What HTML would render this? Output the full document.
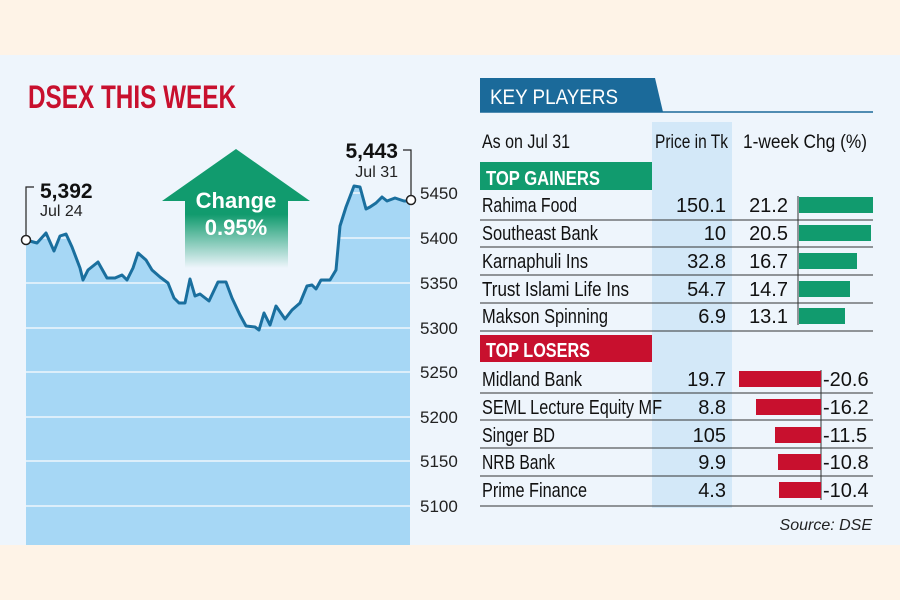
<!DOCTYPE html>
<html><head><meta charset="utf-8"><style>
html,body{margin:0;padding:0;background:#fef3e7;}
svg{display:block;}
text{font-family:"Liberation Sans Narrow","Liberation Sans",sans-serif;}
</style></head><body>
<svg width="900" height="600" viewBox="0 0 900 600" xmlns="http://www.w3.org/2000/svg">
<defs>
<linearGradient id="fade" x1="0" y1="0" x2="0" y2="1">
<stop offset="0" stop-color="#119b6e"/><stop offset="0.55" stop-color="#119b6e"/><stop offset="1" stop-color="#119b6e" stop-opacity="0"/>
</linearGradient>
</defs>
<rect x="0" y="0" width="900" height="600" fill="#fef3e7"/>
<rect x="0" y="55" width="900" height="490" fill="#eef5fc"/>
<text x="28" y="108" font-size="32" font-weight="bold" fill="#c8102e" textLength="208" lengthAdjust="spacingAndGlyphs">DSEX THIS WEEK</text>
<!-- chart -->
<path d="M26,240 L37,243 L46,233 L54,251 L60,236 L66,234 L72,247 L80,268 L83,280 L88,270 L98,262 L107,278 L115,278 L122,275 L127,280 L133,268 L138,253 L146,260 L152,270 L160,277 L168,283 L174,298 L179,303 L185,303 L190,279 L195,296 L200,294 L209,301 L218,282 L226,282 L232,298 L240,315 L246,326 L255,327 L259,330 L264,313 L270,325 L276,306 L285,319 L292,310 L300,303 L307,286 L312,285 L316,289 L321,280 L330,280 L336,270 L340,226 L346,207 L354,186 L360,187 L366,209 L370,207 L376,203 L382,197 L387,201 L395,198 L404,201 L410,201 L410,545 L26,545 Z" fill="#a6d7f5"/>
<g stroke="#eef5fc" stroke-width="1.5">
<line x1="26" y1="193" x2="410" y2="193"/><line x1="26" y1="238" x2="410" y2="238"/><line x1="26" y1="283" x2="410" y2="283"/><line x1="26" y1="328" x2="410" y2="328"/><line x1="26" y1="372" x2="410" y2="372"/><line x1="26" y1="417" x2="410" y2="417"/><line x1="26" y1="461" x2="410" y2="461"/><line x1="26" y1="506" x2="410" y2="506"/>
</g>
<polyline fill="none" stroke="#1a6f9e" stroke-width="3" stroke-linejoin="round" points="26,240 37,243 46,233 54,251 60,236 66,234 72,247 80,268 83,280 88,270 98,262 107,278 115,278 122,275 127,280 133,268 138,253 146,260 152,270 160,277 168,283 174,298 179,303 185,303 190,279 195,296 200,294 209,301 218,282 226,282 232,298 240,315 246,326 255,327 259,330 264,313 270,325 276,306 285,319 292,310 300,303 307,286 312,285 316,289 321,280 330,280 336,270 340,226 346,207 354,186 360,187 366,209 370,207 376,203 382,197 387,201 395,198 404,201 410,201"/>
<g font-size="17" fill="#222">
<text x="420" y="199">5450</text><text x="420" y="244">5400</text><text x="420" y="289">5350</text><text x="420" y="334">5300</text><text x="420" y="378">5250</text><text x="420" y="423">5200</text><text x="420" y="467">5150</text><text x="420" y="512">5100</text>
</g>
<polyline points="26,240 26,187 34,187" fill="none" stroke="#222" stroke-width="1.2"/>
<circle cx="26" cy="240" r="4.5" fill="#fff" stroke="#222" stroke-width="1.5"/>
<text x="40" y="198" font-size="21" font-weight="bold" fill="#111">5,392</text>
<text x="40" y="216" font-size="16" fill="#222">Jul 24</text>
<polyline points="411,200 411,150 403,150" fill="none" stroke="#222" stroke-width="1.2"/>
<circle cx="411" cy="200" r="4.5" fill="#fff" stroke="#222" stroke-width="1.5"/>
<text x="398" y="158" font-size="21" font-weight="bold" fill="#111" text-anchor="end">5,443</text>
<text x="398" y="177" font-size="16" fill="#222" text-anchor="end">Jul 31</text>
<polygon points="236,149 310,201 288,201 288,268 185,268 185,201 162,201" fill="url(#fade)"/>
<text x="236" y="208" font-size="22" font-weight="bold" fill="#fff" text-anchor="middle">Change</text>
<text x="236" y="235" font-size="22" font-weight="bold" fill="#fff" text-anchor="middle">0.95%</text>
<!-- right panel -->
<polygon points="480,78 655,78 663,112 480,112" fill="#1b6a9a"/>
<line x1="480" y1="112" x2="873" y2="112" stroke="#1b6a9a" stroke-width="1.5"/>
<text x="490" y="104" font-size="21" fill="#fff" textLength="128" lengthAdjust="spacingAndGlyphs">KEY PLAYERS</text>
<rect x="652" y="122" width="80" height="386" fill="#d3e8f8"/>
<g font-size="19" fill="#111">
<text x="482" y="148" textLength="88" lengthAdjust="spacingAndGlyphs">As on Jul 31</text>
<text x="655" y="148" textLength="73" lengthAdjust="spacingAndGlyphs">Price in Tk</text>
<text x="743" y="148" textLength="124" lengthAdjust="spacingAndGlyphs">1-week Chg (%)</text>
</g>
<rect x="480" y="162" width="172" height="28" fill="#119b6e"/>
<text x="486" y="185" font-size="20" font-weight="bold" fill="#fff" textLength="114" lengthAdjust="spacingAndGlyphs">TOP GAINERS</text>
<g stroke="#333" stroke-width="1">
<line x1="480" y1="220" x2="873" y2="220"/><line x1="480" y1="247" x2="873" y2="247"/><line x1="480" y1="275" x2="873" y2="275"/><line x1="480" y1="303" x2="873" y2="303"/><line x1="480" y1="331" x2="873" y2="331"/>
<line x1="480" y1="393" x2="873" y2="393"/><line x1="480" y1="420" x2="873" y2="420"/><line x1="480" y1="448" x2="873" y2="448"/><line x1="480" y1="476" x2="873" y2="476"/><line x1="480" y1="506" x2="873" y2="506"/>
<line x1="798" y1="196" x2="798" y2="325"/><line x1="821" y1="370" x2="821" y2="500"/>
</g>
<g fill="#119b6e">
<rect x="799" y="197" width="74" height="16"/><rect x="799" y="225" width="72" height="16"/><rect x="799" y="253" width="58" height="16"/><rect x="799" y="281" width="51" height="16"/><rect x="799" y="308" width="46" height="16"/>
</g>
<rect x="480" y="335" width="172" height="27" fill="#c8102e"/>
<text x="486" y="357" font-size="20" font-weight="bold" fill="#fff" textLength="104" lengthAdjust="spacingAndGlyphs">TOP LOSERS</text>
<g fill="#c8102e">
<rect x="739" y="371" width="82" height="16"/><rect x="756" y="399" width="65" height="16"/><rect x="775" y="427" width="46" height="16"/><rect x="778" y="454" width="43" height="16"/><rect x="779" y="482" width="42" height="16"/>
</g>
<g font-size="20" fill="#111">
<text x="482" y="212" textLength="95" lengthAdjust="spacingAndGlyphs">Rahima Food</text>
<text x="482" y="240" textLength="116" lengthAdjust="spacingAndGlyphs">Southeast Bank</text>
<text x="482" y="268" textLength="106" lengthAdjust="spacingAndGlyphs">Karnaphuli Ins</text>
<text x="482" y="296" textLength="147" lengthAdjust="spacingAndGlyphs">Trust Islami Life Ins</text>
<text x="482" y="323" textLength="126" lengthAdjust="spacingAndGlyphs">Makson Spinning</text>
<text x="482" y="386" textLength="100" lengthAdjust="spacingAndGlyphs">Midland Bank</text>
<text x="482" y="414" textLength="180" lengthAdjust="spacingAndGlyphs">SEML Lecture Equity MF</text>
<text x="482" y="442" textLength="73" lengthAdjust="spacingAndGlyphs">Singer BD</text>
<text x="482" y="469" textLength="73" lengthAdjust="spacingAndGlyphs">NRB Bank</text>
<text x="482" y="497" textLength="105" lengthAdjust="spacingAndGlyphs">Prime Finance</text>
</g>
<g font-size="20" fill="#111" text-anchor="end">
<text x="726" y="212">150.1</text><text x="726" y="240">10</text><text x="726" y="268">32.8</text><text x="726" y="296">54.7</text><text x="726" y="323">6.9</text>
<text x="726" y="386">19.7</text><text x="726" y="414">8.8</text><text x="726" y="442">105</text><text x="726" y="469">9.9</text><text x="726" y="497">4.3</text>
<text x="788" y="212">21.2</text><text x="788" y="240">20.5</text><text x="788" y="268">16.7</text><text x="788" y="296">14.7</text><text x="788" y="323">13.1</text>
</g>
<g font-size="20" fill="#111">
<text x="823" y="386">-20.6</text><text x="823" y="414">-16.2</text><text x="823" y="442">-11.5</text><text x="823" y="469">-10.8</text><text x="823" y="497">-10.4</text>
</g>
<text x="872" y="530" font-size="16" font-style="italic" fill="#222" text-anchor="end">Source: DSE</text>
</svg>
</body></html>
